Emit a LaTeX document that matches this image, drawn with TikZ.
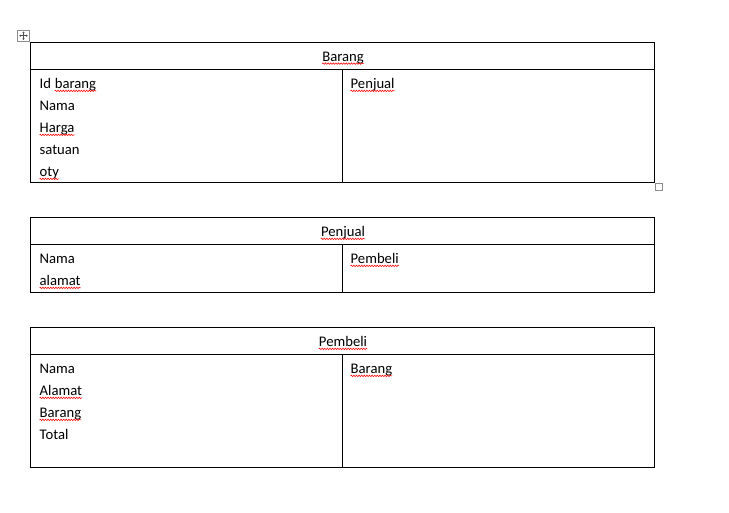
\documentclass[tikz,border=0pt]{standalone}
\usepackage{fontspec}
\setmainfont{Carlito}
\usetikzlibrary{decorations.pathmorphing,arrows.meta}
\newcommand\wavy[1]{\draw[squig] ([yshift=-2.6pt]#1.base west) -- ([yshift=-2.6pt]#1.base east);}
\begin{document}
\begin{tikzpicture}[x=1pt,y=-1pt,
  cell/.style={draw=black,line width=1pt},
  txt/.style={anchor=base west,inner sep=0pt,font=\fontsize{14.67}{17}\selectfont,text=black},
  hdr/.style={anchor=base,inner sep=0pt,font=\fontsize{14.67}{17}\selectfont,text=black},
  squig/.style={draw=red,line width=0.55pt,decorate,decoration={snake,amplitude=0.75pt,segment length=2.6pt}},
  handle/.style={draw=black!45,line width=0.8pt,fill=white}]
\useasboundingbox[fill=white] (0,0) rectangle (729,512);

% move handle
\draw[handle] (17.5,30) rectangle (29.5,41.5);
\coordinate (hc) at (23.5,35.75);
\draw[black!70,line width=0.6pt,-{Stealth[length=1.6pt,width=2.4pt]}] (hc) -- ++(0,-4.2);
\draw[black!70,line width=0.6pt,-{Stealth[length=1.6pt,width=2.4pt]}] (hc) -- ++(0,4.2);
\draw[black!70,line width=0.6pt,-{Stealth[length=1.6pt,width=2.4pt]}] (hc) -- ++(-4.2,0);
\draw[black!70,line width=0.6pt,-{Stealth[length=1.6pt,width=2.4pt]}] (hc) -- ++(4.2,0);
% resize handle
\draw[handle] (655.5,183.5) rectangle (662.5,190.5);

% ---------- Table 1: Barang ----------
\draw[cell] (30,42.5) rectangle (654,182.5);
\draw[cell] (30,69.5) -- (654,69.5);
\draw[cell] (342.5,69.5) -- (342.5,182.5);
\node[hdr] (t1h) at (343,61) {Barang}; \wavy{t1h}
\node[txt] (t1a) at (39.5,88.3) {Id};
\node[txt] (t1a2) at ([xshift=3.4pt]t1a.base east) {barang}; \wavy{t1a2}
\node[txt] (t1b) at (39.5,110.3) {Nama};
\node[txt] (t1c) at (39.5,132.3) {Harga}; \wavy{t1c}
\node[txt] (t1d) at (39.5,154.3) {satuan};
\node[txt] (t1e) at (39.5,176.3) {oty}; \wavy{t1e}
\node[txt] (t1r) at (350.5,88.3) {Penjual}; \wavy{t1r}

% ---------- Table 2: Penjual ----------
\draw[cell] (30,217.5) rectangle (654,292.5);
\draw[cell] (30,244.5) -- (654,244.5);
\draw[cell] (342.5,244.5) -- (342.5,292.5);
\node[hdr] (t2h) at (343,236.3) {Penjual}; \wavy{t2h}
\node[txt] (t2a) at (39.5,263.3) {Nama};
\node[txt] (t2b) at (39.5,285.3) {alamat}; \wavy{t2b}
\node[txt] (t2r) at (350.5,263.3) {Pembeli}; \wavy{t2r}

% ---------- Table 3: Pembeli ----------
\draw[cell] (30,327.5) rectangle (654,467.5);
\draw[cell] (30,354.5) -- (654,354.5);
\draw[cell] (342.5,354.5) -- (342.5,467.5);
\node[hdr] (t3h) at (343,346.3) {Pembeli}; \wavy{t3h}
\node[txt] (t3a) at (39.5,373.3) {Nama};
\node[txt] (t3b) at (39.5,395.3) {Alamat}; \wavy{t3b}
\node[txt] (t3c) at (39.5,417.3) {Barang}; \wavy{t3c}
\node[txt] (t3d) at (39.5,439.3) {Total};
\node[txt] (t3r) at (350.5,373.3) {Barang}; \wavy{t3r}
\end{tikzpicture}
\end{document}
